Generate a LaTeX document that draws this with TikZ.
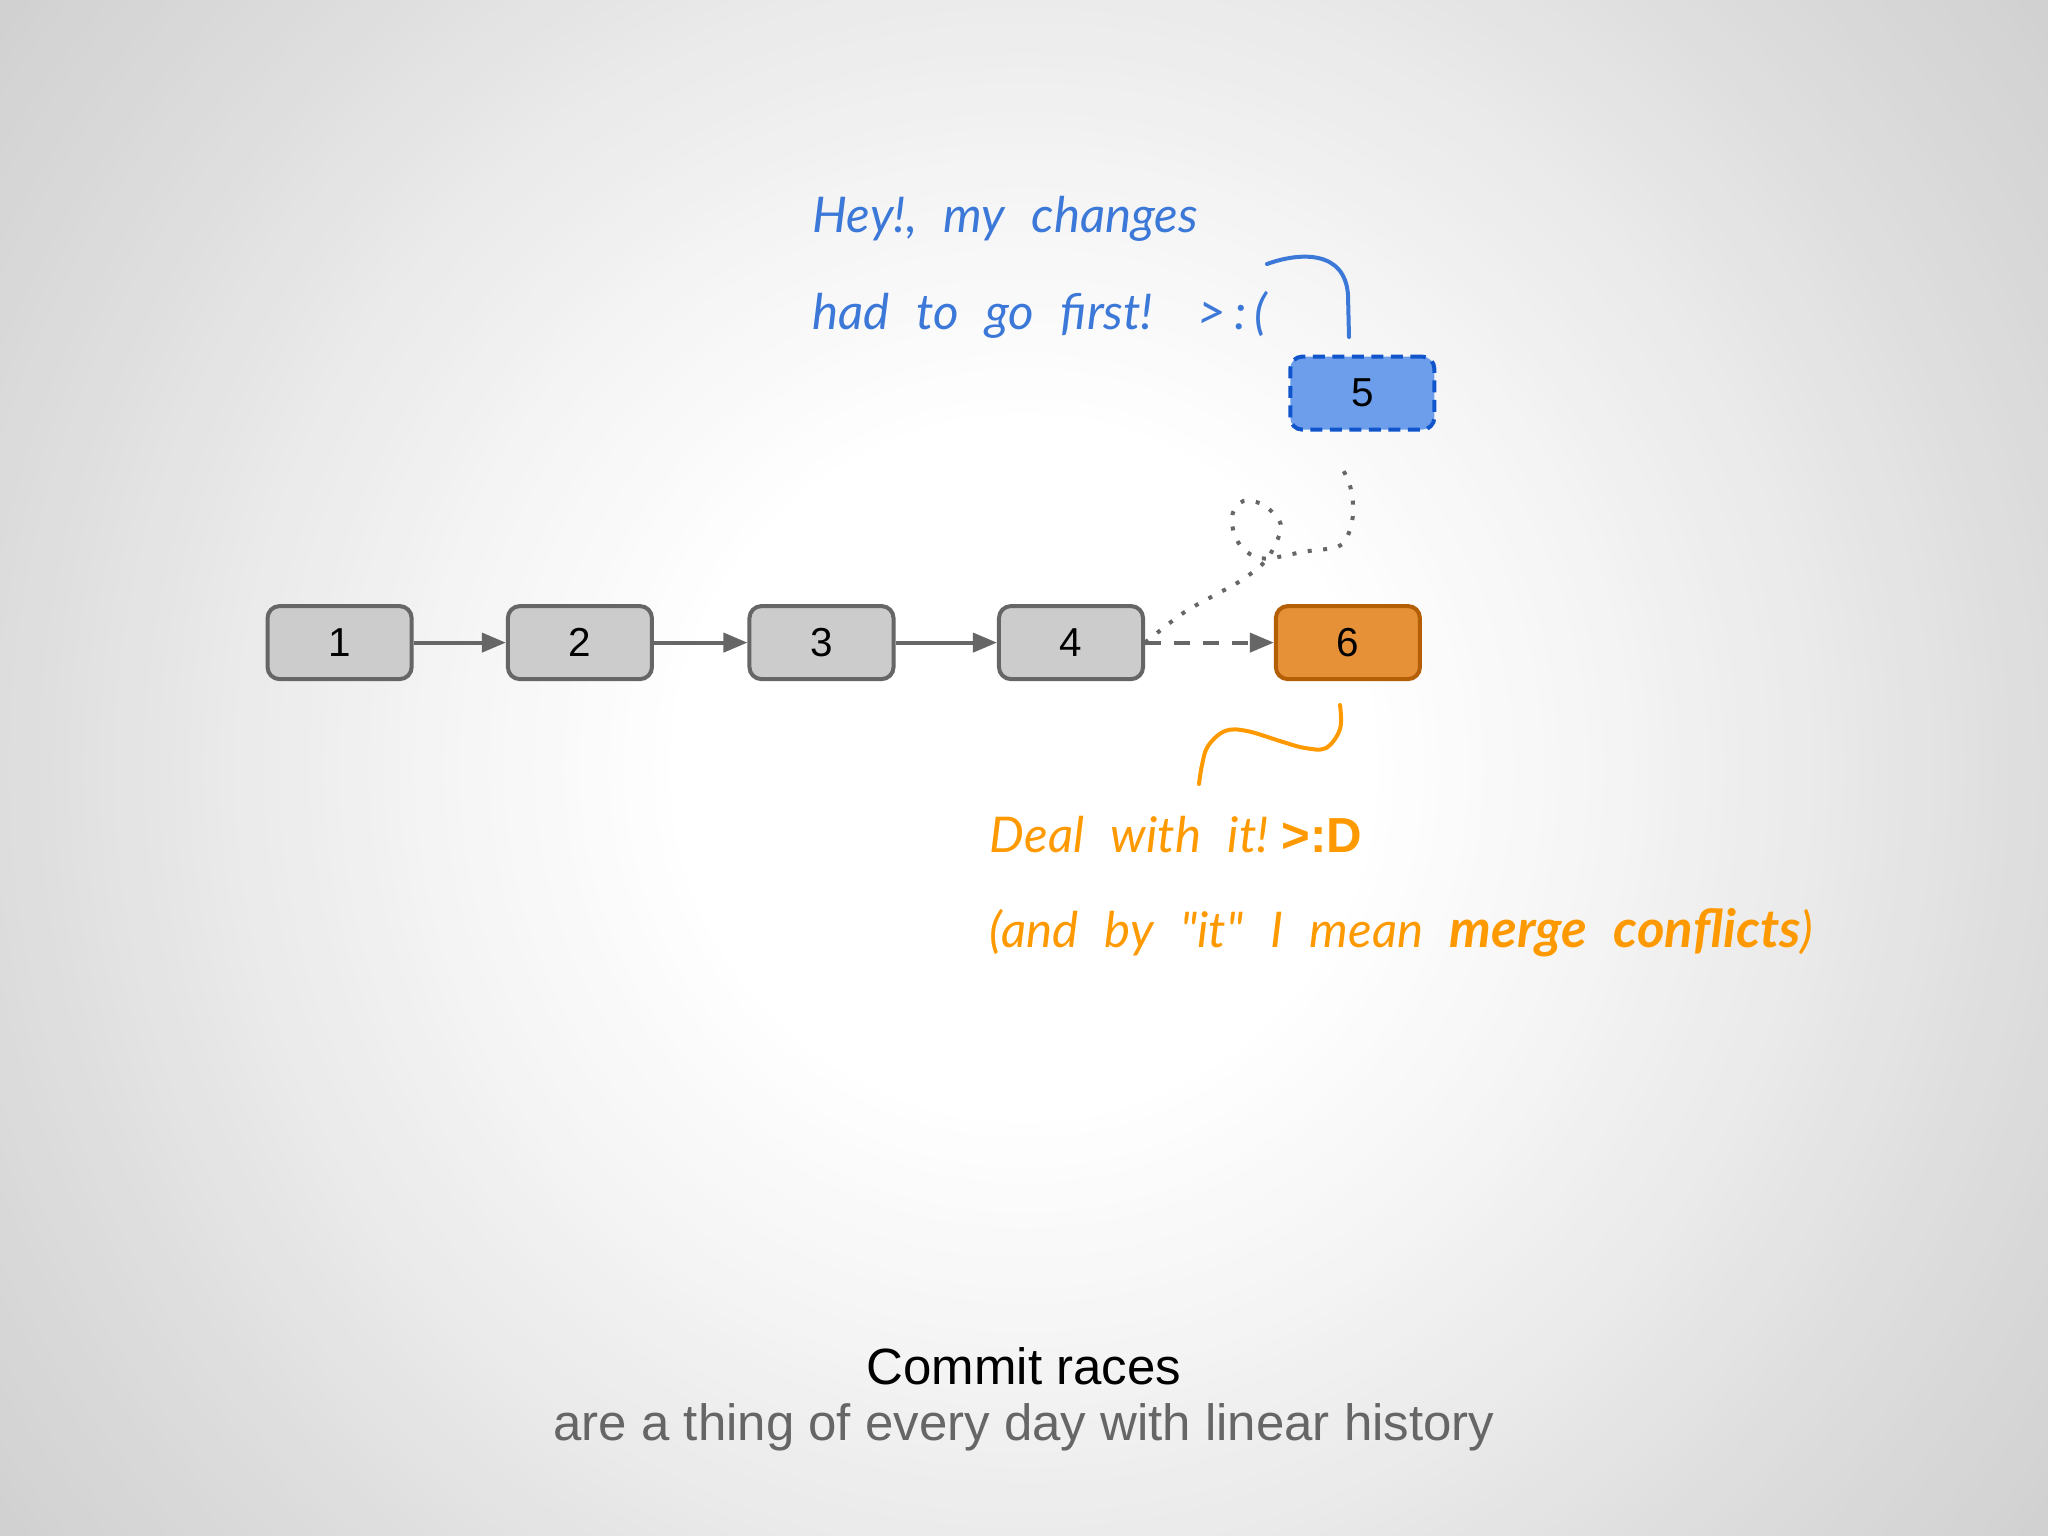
\documentclass[tikz,border=0pt]{standalone}
\usepackage{fontspec}
\setmainfont{Liberation Sans}
\newfontfamily\handfont{Lato}[WordSpace=2.3]
\usetikzlibrary{arrows.meta}
\definecolor{boxgray}{HTML}{CCCCCC}
\definecolor{linegray}{HTML}{666666}
\definecolor{orangefill}{HTML}{E69138}
\definecolor{orangeline}{HTML}{B45F06}
\definecolor{bluefill}{HTML}{6D9EEB}
\definecolor{blueline}{HTML}{1155CC}
\definecolor{handblue}{HTML}{3C78D8}
\definecolor{handorange}{HTML}{FF9900}
\definecolor{subgray}{HTML}{666666}
\begin{document}
\begin{tikzpicture}[x=0.01cm,y=-0.01cm,
  commit/.style={draw=linegray, fill=boxgray, line width=0.04cm, rounded corners=0.12cm,
    minimum width=1.44cm, minimum height=0.73cm, inner sep=0pt,
    font=\fontsize{11.5}{13}\selectfont},
  link/.style={draw=linegray, line width=0.04cm, -{Triangle[length=0.24cm,width=0.19cm]}},
  dotline/.style={draw=linegray, line width=0.04cm, dash pattern=on 0.04cm off 0.115cm},
  bluehand/.style={anchor=base west, inner sep=0pt, text=handblue, font=\handfont\itshape\fontsize{14}{16}\selectfont},
  orangehand/.style={anchor=base west, inner sep=0pt, text=handorange, font=\handfont\itshape\fontsize{14}{16}\selectfont},
  callout/.style={line width=0.04cm, line cap=round}
]
\useasboundingbox (0,0) rectangle (2048,1536);
\begin{scope}
\clip (0,0) rectangle (2048,1536);
\foreach \r in {1300,1285,...,340} {
  \pgfmathsetmacro\g{\r<=350 ? 255 : (\r<=600 ? 255-(\r-350)*0.044 : (\r<=800 ? 244-(\r-600)*0.05 : (\r<=1024 ? 234-(\r-800)*0.058 : 221-(\r-1024)*0.0469)))}
  \pgfmathsetmacro\gg{\g/255}
  \definecolor{ringcol}{gray}{\gg}
  \fill[ringcol] (1024,768) circle[radius=\r];
}
\end{scope}

\node[commit] (c1) at (339.6,642.6) {1};
\node[commit] (c2) at (579.9,642.6) {2};
\node[commit] (c3) at (821.5,642.6) {3};
\node[commit] (c4) at (1071,642.6) {4};
\node[commit, fill=orangefill, draw=orangeline] (c6) at (1347.9,642.6) {6};
\node[commit, fill=bluefill, draw=blueline, dash pattern=on 0.12cm off 0.075cm] (c5) at (1362.3,393.1) {5};

\draw[link] (c1) -- (c2);
\draw[link] (c2) -- (c3);
\draw[link] (c3) -- (c4);
\draw[link, dash pattern=on 0.16cm off 0.13cm] (c4) -- (c6);

\coordinate (dotend) at (1342,468);
\draw[dotline] plot[smooth, tension=0.55] coordinates {(c4.east) (1181.7,614) (1211.7,596.7) (1240.7,580.7) (1266.7,559.3) (1281,528.7) (1273.3,513.3) (1260,503.3) (1243.3,501) (1232.7,513.3) (1233.3,530.7) (1240.7,546) (1254,556.3) (1270,558.3) (1304,551.7) (1337.7,546.7) (1348.3,534.3) (1352.7,517.3) (1352.7,500.3) (1349.3,483.3) (dotend)};

\coordinate (bstart) at (1267,264);
\coordinate (bend) at (1349,337);
\draw[callout, handblue] (bstart) .. controls (1300,252) and (1345,250) .. (1348,295) -- (bend);

\coordinate (ostart) at (1340,705);
\coordinate (oend) at (1199,784);
\draw[callout, handorange] plot[smooth, tension=0.6] coordinates {(ostart) (1340,729) (1326,748) (1305,748) (1283,742) (1247,731) (1225,731) (1208,746) (1202,765) (oend)};

\node[bluehand] (t1) at (812,232) {Hey!, my changes};
\node[bluehand] (t2) at (812,329) {had to go first!\hspace{4pt} >\,:\,(};
\node[orangehand] (t3) at (989,852) {Deal with it!\hspace{-5pt} {\rmfamily\upshape\bfseries >:D}};
\node[orangehand] (t4) at (989,947) {(and by "it" I mean {\bfseries\fontsize{15}{17}\selectfont merge conflicts})};

\node[anchor=base, inner sep=0pt, font=\fontsize{14.5}{17}\selectfont] (title) at (1024,1384.5) {Commit races};
\node[anchor=base, inner sep=0pt, text=subgray, font=\fontsize{14.5}{17}\selectfont] (sub) at (1024,1440.6) {are a thing of every day with linear history};
\end{tikzpicture}
\end{document}
